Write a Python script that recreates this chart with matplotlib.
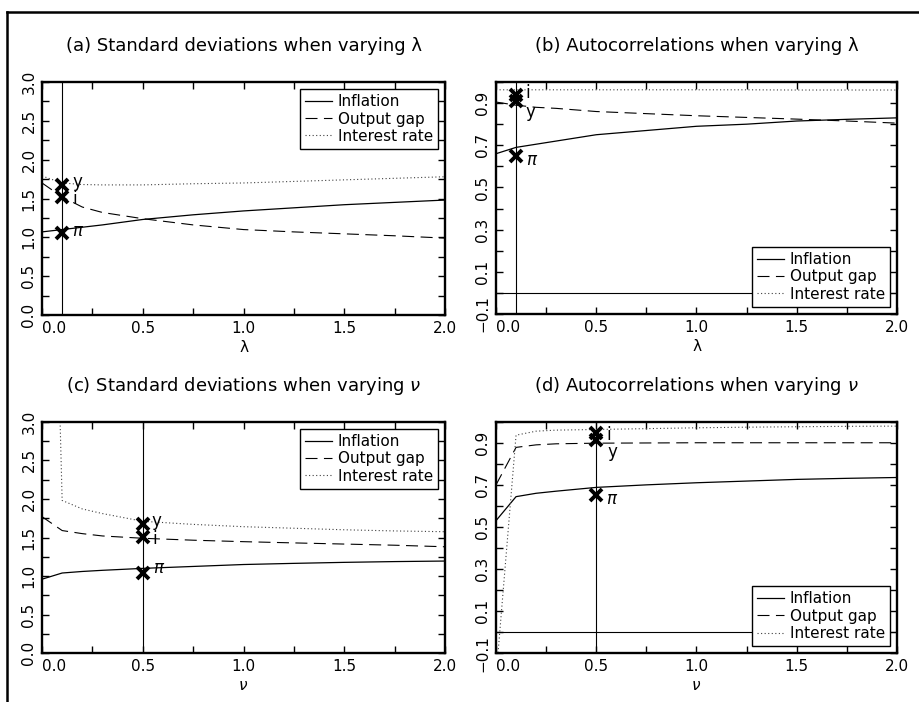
import matplotlib
matplotlib.use("Agg")
import matplotlib.pyplot as plt
from matplotlib.lines import Line2D
import numpy as np

plt.rcParams['font.family'] = ['DejaVu Sans']
plt.rcParams['mathtext.fontset'] = 'dejavusans'

# ---------------- data ----------------
lam = [0.0, 0.1, 0.2, 0.3, 0.5, 0.75, 1.0, 1.25, 1.5, 1.75, 2.0]
nu = [0.0, 0.1, 0.2, 0.3, 0.5, 0.75, 1.0, 1.25, 1.5, 1.75, 2.0]

# (a) standard deviations, varying lambda
sd_lam_infl = [1.07, 1.10, 1.13, 1.16, 1.23, 1.29, 1.34, 1.38, 1.42, 1.45, 1.48]
sd_lam_gap = [1.70, 1.52, 1.39, 1.32, 1.24, 1.16, 1.10, 1.07, 1.045, 1.02, 0.99]
sd_lam_rate = [1.79, 1.70, 1.68, 1.675, 1.675, 1.69, 1.70, 1.72, 1.74, 1.76, 1.78]

# (b) autocorrelations, varying lambda
ac_lam_infl = [0.66, 0.69, 0.705, 0.72, 0.75, 0.77, 0.79, 0.80, 0.815, 0.823, 0.83]
ac_lam_gap = [0.905, 0.89, 0.88, 0.875, 0.86, 0.85, 0.84, 0.832, 0.824, 0.815, 0.805]
ac_lam_rate = [0.963, 0.963, 0.963, 0.963, 0.963, 0.963, 0.963, 0.963, 0.962, 0.962, 0.962]

# (c) standard deviations, varying nu
sd_nu_infl = [0.96, 1.04, 1.06, 1.075, 1.10, 1.125, 1.15, 1.165, 1.178, 1.188, 1.195]
sd_nu_gap = [1.77, 1.59, 1.55, 1.52, 1.49, 1.465, 1.446, 1.43, 1.415, 1.40, 1.38]
sd_nu_rate = [12.0, 1.98, 1.87, 1.81, 1.71, 1.67, 1.64, 1.62, 1.60, 1.585, 1.575]

# (d) autocorrelations, varying nu
ac_nu_infl = [0.53, 0.644, 0.66, 0.67, 0.688, 0.70, 0.71, 0.718, 0.726, 0.731, 0.735]
ac_nu_gap = [0.70, 0.878, 0.89, 0.895, 0.898, 0.899, 0.90, 0.90, 0.90, 0.90, 0.90]
ac_nu_rate = [-0.215, 0.936, 0.955, 0.96, 0.963, 0.967, 0.971, 0.974, 0.976, 0.978, 0.979]

# empirical markers
mark_labels = ['y', 'i', r'$\pi$']
mark_a = [1.67, 1.52, 1.055]
mark_b = [0.91, 0.94, 0.65]
mark_c = [1.68, 1.51, 1.045]
mark_d = [0.913, 0.944, 0.651]
lam_bench = 0.1
nu_bench = 0.5

series_names = ['Inflation', 'Output gap', 'Interest rate']

# ---------------- figure ----------------
W, H = 920, 702
fig = plt.figure(figsize=(W / 100, H / 100), dpi=100)


def px_axes(l, r, t, b):
    return fig.add_axes([l / W, 1 - b / H, (r - l) / W, (b - t) / H])


FS_TICK = 11
FS_TITLE = 13
FS_LEG = 11

ls_solid = dict(color='black', lw=0.9, ls='-')
ls_dash = dict(color='black', lw=0.8, ls=(0, (10.8, 5.8)))
ls_dot = dict(color='0.25', lw=0.8, ls=(0, (1, 2.2)))


def fmt(v):
    return ('%.1f' % v).replace('-', '\u2212')


def setup(ax, title, xlabel, yticks, ylabels, ylim):
    ax.set_xlim(0, 2.0)
    ax.set_ylim(*ylim)
    xt = np.arange(0, 2.01, 0.25)
    xl = [fmt(v) if abs(v * 2 - round(v * 2)) < 1e-9 else '' for v in xt]
    ax.set_xticks(xt, xl)
    ax.set_yticks(yticks, ylabels)
    ax.tick_params(direction='in', top=True, right=True, length=5, width=1,
                   labelsize=FS_TICK, pad=4)
    for lab in ax.get_yticklabels():
        lab.set_rotation(90)
        lab.set_va('center')
    ax.get_xticklabels()[0].set_ha('left')
    for s in ax.spines.values():
        s.set_linewidth(1.7)
    ax.set_title(title, fontsize=FS_TITLE, pad=22)
    ax.set_xlabel(xlabel, fontsize=11, labelpad=3)


def draw_series(ax, x, a, b, c, loc):
    h1, = ax.plot(x, a, **ls_solid)
    h2, = ax.plot(x, b, **ls_dash)
    h3, = ax.plot(x, c, **ls_dot)
    leg = ax.legend([h1, h2, h3], series_names, loc=loc, fontsize=FS_LEG,
                    fancybox=False, framealpha=1, edgecolor='black',
                    handlelength=1.75, handletextpad=0.35, borderpad=0.35,
                    labelspacing=0.15, borderaxespad=0.45)
    leg.get_frame().set_linewidth(1.0)


def draw_marks(ax, xb, vals, offsets):
    ax.plot([xb] * len(vals), vals, 'x', color='black', ms=9, mew=2.8,
            clip_on=False)
    for v, lab, off in zip(vals, mark_labels, offsets):
        ax.annotate(lab, (xb, v), xytext=off, textcoords='offset pixels',
                    ha='center', va='center', fontsize=12)


# (a)
ax = px_axes(42, 445, 82, 315)
ax.axvline(lam_bench, color='black', lw=0.8)
draw_series(ax, lam, sd_lam_infl, sd_lam_gap, sd_lam_rate, 'upper right')
draw_marks(ax, lam_bench, mark_a, [(15, 3), (13, -2), (16, 2)])
yt = np.arange(0, 3.01, 0.25)
setup(ax, '(a) Standard deviations when varying λ', 'λ', yt,
      [fmt(v) if abs(v * 2 - round(v * 2)) < 1e-9 else '' for v in yt], (0, 3))

# (b)
ax = px_axes(496, 897, 82, 314)
ax.axvline(lam_bench, color='black', lw=0.8)
ax.axhline(0, color='black', lw=0.8)
draw_series(ax, lam, ac_lam_infl, ac_lam_gap, ac_lam_rate, 'lower right')
draw_marks(ax, lam_bench, mark_b, [(14, -11), (12, 2), (16, -4)])
yt = np.round(np.arange(-0.1, 1.001, 0.1), 2)
setup(ax, '(b) Autocorrelations when varying λ', 'λ', yt,
      [fmt(v) if (round(v * 10) % 2 != 0) else '' for v in yt], (-0.1, 1.0))

# (c)
ax = px_axes(42, 445, 421.7, 653.3)
ax.axvline(nu_bench, color='black', lw=0.8)
draw_series(ax, nu, sd_nu_infl, sd_nu_gap, sd_nu_rate, 'upper right')
draw_marks(ax, nu_bench, mark_c, [(14, 3), (12, -2), (16, 5)])
yt = np.arange(0, 3.01, 0.25)
setup(ax, r'(c) Standard deviations when varying $\nu$', r'$\nu$', yt,
      [fmt(v) if abs(v * 2 - round(v * 2)) < 1e-9 else '' for v in yt], (0, 3))

# (d)
ax = px_axes(496, 897, 421.7, 653.3)
ax.axvline(nu_bench, color='black', lw=0.8)
ax.axhline(0, color='black', lw=0.8)
draw_series(ax, nu, ac_nu_infl, ac_nu_gap, ac_nu_rate, 'lower right')
draw_marks(ax, nu_bench, mark_d, [(16, -12), (12, -2), (16, -4)])
yt = np.round(np.arange(-0.1, 1.001, 0.1), 2)
setup(ax, r'(d) Autocorrelations when varying $\nu$', r'$\nu$', yt,
      [fmt(v) if (round(v * 10) % 2 != 0) else '' for v in yt], (-0.1, 1.0))

# outer frame (partially visible)
fig.add_artist(Line2D([7 / W, 7 / W], [0, 1 - 12 / H], transform=fig.transFigure,
                      color='black', lw=1.8))
fig.add_artist(Line2D([7 / W, 1], [1 - 12 / H, 1 - 12 / H], transform=fig.transFigure,
                      color='black', lw=1.8))

fig.savefig('out.png', dpi=100)
